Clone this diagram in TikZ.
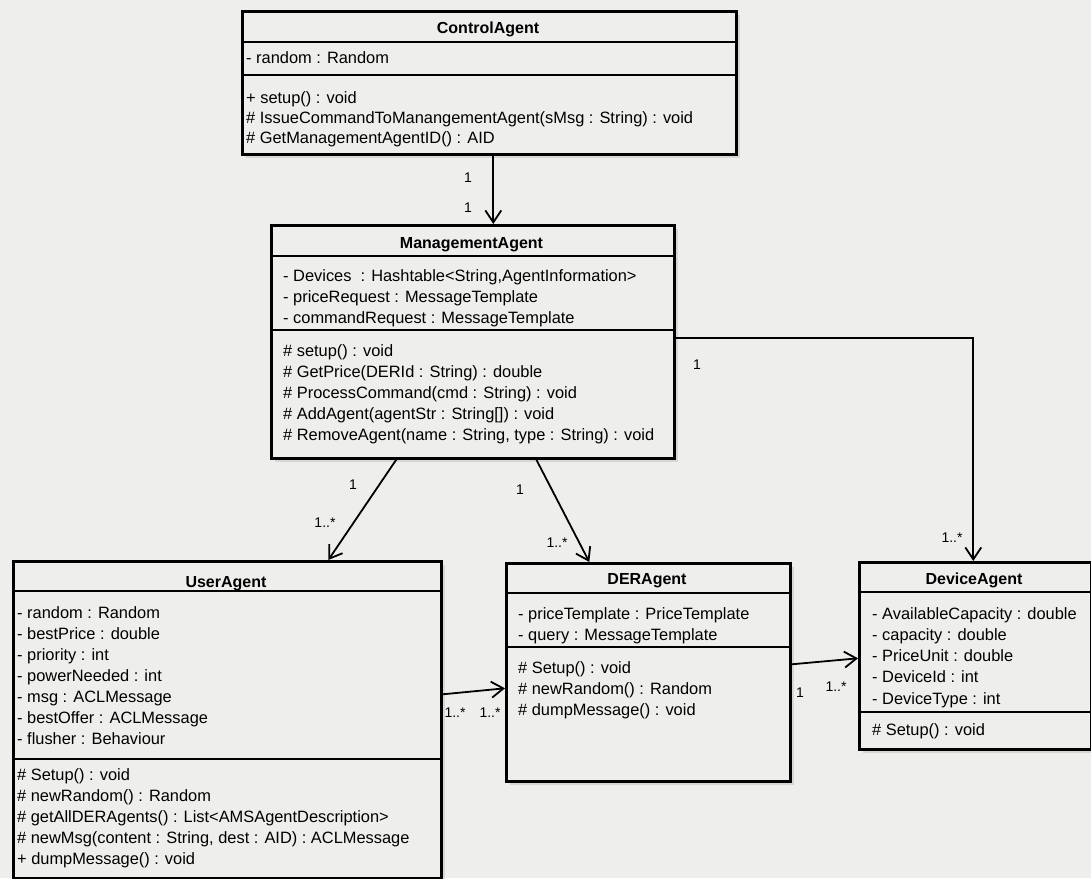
\documentclass[tikz,border=0pt]{standalone}
\usepackage{fontspec}
\setmainfont{Liberation Sans}
\usetikzlibrary{arrows.meta,shadows}

\definecolor{paper}{RGB}{238,238,236}

\tikzset{
  classbox/.style={draw=black, line width=2.6pt, fill=paper, anchor=north west,
    inner sep=0pt,
    drop shadow={shadow xshift=4pt, shadow yshift=-4pt, fill=black!25, opacity=0.5}},
  classname/.style={font=\bfseries\fontsize{16}{19}\selectfont, inner sep=0pt, anchor=base},
  member/.style={font=\fontsize{16.4}{20}\selectfont, inner sep=0pt, anchor=base west},
  mult/.style={font=\fontsize{14}{16}\selectfont, inner sep=0pt},
  divider/.style={line width=1.6pt},
  assoc/.style={line width=1.8pt, -{Straight Barb[length=12pt,width=16pt]}}
}

\begin{document}
\begin{tikzpicture}[x={(1pt,0pt)}, y={(0pt,-1pt)}]

  % page
  \fill[paper] (0,0) rectangle (1091,878);
  \useasboundingbox (0,0) rectangle (1091,878);

  % classes
  \node[classbox, minimum width=494pt, minimum height=143pt] (control) at (241,10) {};
  \node[classbox, minimum width=403pt, minimum height=233pt] (manage) at (270,224) {};
  \node[classbox, minimum width=428pt, minimum height=317pt] (user) at (12,560) {};
  \node[classbox, minimum width=284pt, minimum height=218pt] (der) at (505,562) {};
  \node[classbox, minimum width=232pt, minimum height=187pt] (device) at (858,561) {};

  % compartments
  \draw[divider] ([yshift=-32pt]control.north west) -- ([yshift=-32pt]control.north east);
  \draw[divider] ([yshift=-65pt]control.north west) -- ([yshift=-65pt]control.north east);
  \draw[divider] ([yshift=-32pt]manage.north west) -- ([yshift=-32pt]manage.north east);
  \draw[divider] ([yshift=-106pt]manage.north west) -- ([yshift=-106pt]manage.north east);
  \draw[divider] ([yshift=-31pt]user.north west) -- ([yshift=-31pt]user.north east);
  \draw[divider] ([yshift=-199pt]user.north west) -- ([yshift=-199pt]user.north east);
  \draw[divider] ([yshift=-31pt]der.north west) -- ([yshift=-31pt]der.north east);
  \draw[divider] ([yshift=-85pt]der.north west) -- ([yshift=-85pt]der.north east);
  \draw[divider] ([yshift=-31pt]device.north west) -- ([yshift=-31pt]device.north east);
  \draw[divider] ([yshift=-151pt]device.north west) -- ([yshift=-151pt]device.north east);

  % class names
  \node[classname] (control-name) at (488,33) {ControlAgent};
  \node[classname] (manage-name) at (471.5,248) {ManagementAgent};
  \node[classname] (user-name) at (226,587) {UserAgent};
  \node[classname] (der-name) at (647,584) {DERAgent};
  \node[classname] (device-name) at (974,584) {DeviceAgent};

  % ControlAgent
  \node[member] (control-a1) at (246,63) {- random : Random};
  \foreach \txt [count=\i] in {{+ setup() : void},
      {\# IssueCommandToManangementAgent(sMsg : String) : void},
      {\# GetManagementAgentID() : AID}}
    \node[member] (control-m\i) at (246,83+20*\i) {\txt};

  % ManagementAgent
  \foreach \txt [count=\i] in {{- Devices\ \ : Hashtable<String,AgentInformation>},
      {- priceRequest : MessageTemplate},
      {- commandRequest : MessageTemplate}}
    \node[member] (manage-a\i) at (283,260+21*\i) {\txt};
  \foreach \txt [count=\i] in {{\# setup() : void},
      {\# GetPrice(DERId : String) : double},
      {\# ProcessCommand(cmd : String) : void},
      {\# AddAgent(agentStr : String[]) : void},
      {\# RemoveAgent(name : String, type : String) : void}}
    \node[member] (manage-m\i) at (283,335+21*\i) {\txt};

  % UserAgent
  \foreach \txt [count=\i] in {{- random : Random},
      {- bestPrice : double},
      {- priority : int},
      {- powerNeeded : int},
      {- msg : ACLMessage},
      {- bestOffer : ACLMessage},
      {- flusher : Behaviour}}
    \node[member] (user-a\i) at (17,597+21*\i) {\txt};
  \foreach \txt [count=\i] in {{\# Setup() : void},
      {\# newRandom() : Random},
      {\# getAllDERAgents() : List<AMSAgentDescription>},
      {\# newMsg(content : String, dest : AID) : ACLMessage},
      {+ dumpMessage() : void}}
    \node[member] (user-m\i) at (17,759+21*\i) {\txt};

  % DERAgent
  \foreach \txt [count=\i] in {{- priceTemplate : PriceTemplate},
      {- query : MessageTemplate}}
    \node[member] (der-a\i) at (518,598+21*\i) {\txt};
  \foreach \txt [count=\i] in {{\# Setup() : void},
      {\# newRandom() : Random},
      {\# dumpMessage() : void}}
    \node[member] (der-m\i) at (518,652+21*\i) {\txt};

  % DeviceAgent
  \foreach \txt [count=\i] in {{- AvailableCapacity : double},
      {- capacity : double},
      {- PriceUnit : double},
      {- DeviceId : int},
      {- DeviceType : int}}
    \node[member] (device-a\i) at (872,598+21.2*\i) {\txt};
  \node[member] (device-m1) at (872,735) {\# Setup() : void};

  % associations
  \draw[assoc] ([xshift=4pt]control.south) -- ([xshift=20.5pt]manage.north);
  \draw[assoc] ([xshift=-76.5pt]manage.south) -- ([xshift=101pt]user.north);
  \draw[assoc] ([xshift=63.5pt]manage.south) -- ([xshift=-59pt]der.north);
  \draw[assoc] ([yshift=3.5pt]manage.east) -| ([xshift=-2pt]device.north);
  \draw[assoc] ([yshift=25.5pt]user.east) -- ([yshift=-16pt]der.west);
  \draw[assoc] ([yshift=8pt]der.east) -- ([yshift=-2.5pt]device.west);

  % multiplicities
  \node[mult] (cm-1) at (468,178) {1};
  \node[mult] (cm-2) at (468,208) {1};
  \node[mult] (mu-1) at (353,485) {1};
  \node[mult] (mu-2) at (325,523) {1..*};
  \node[mult] (md-1) at (520,490) {1};
  \node[mult] (md-2) at (557,543) {1..*};
  \node[mult] (mv-1) at (697,365) {1};
  \node[mult] (mv-2) at (952,538) {1..*};
  \node[mult] (ud-1) at (455,713) {1..*};
  \node[mult] (ud-2) at (490,713) {1..*};
  \node[mult] (dv-1) at (800,693) {1};
  \node[mult] (dv-2) at (836,687) {1..*};

\end{tikzpicture}
\end{document}
